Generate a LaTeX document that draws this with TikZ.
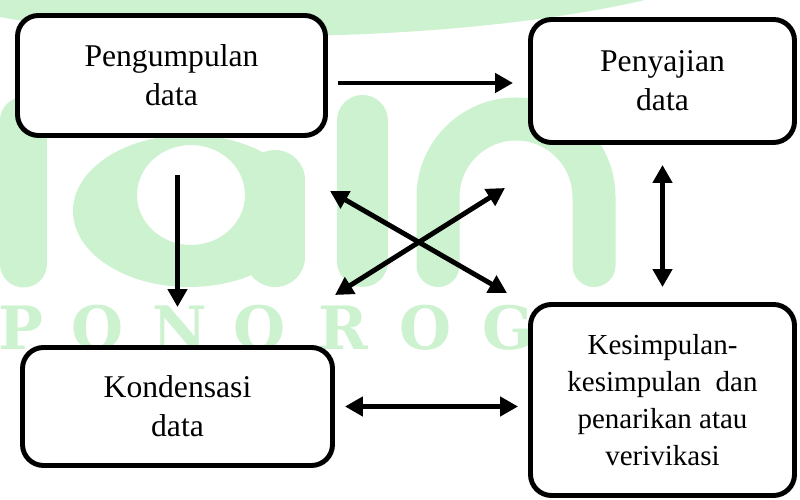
\documentclass[tikz,border=0pt]{standalone}
\usepackage{fontspec}
\setmainfont{Liberation Serif}
\newfontfamily\wmfont{DejaVu Serif}
\usepackage{tikz}
\usetikzlibrary{arrows.meta}

\definecolor{wmgreen}{RGB}{205,242,208}

\tikzset{
  box/.style={draw, line width=2.8pt, rounded corners=0.42cm, fill=white,
    align=center, inner sep=0pt, font=\fontsize{18}{22}\selectfont},
  arr/.style={line width=2.8pt, >={Triangle[length=0.36cm,width=0.38cm]}},
  wmletter/.style={text=wmgreen, anchor=base, inner sep=0pt,
    font=\wmfont\bfseries\fontsize{34}{34}\selectfont}
}

\begin{document}
\begin{tikzpicture}[]

\useasboundingbox (0,0) rectangle (16,10);
\fill[white] (0,0) rectangle (16,10);

% watermark
\fill[wmgreen] (0,10) -- (0,9.66) .. controls (3,9.1) and (9,9.1) .. (12.9,10) -- cycle;
\draw[wmgreen, line width=0.94cm, line cap=round] (0.47,7.59) -- (0.47,4.72);
\fill[wmgreen, even odd rule] (3.78,5.78) ellipse [x radius=2.32, y radius=1.52]
  (3.82,6.1) ellipse [x radius=1.08, y radius=1.0];
\draw[wmgreen, line width=1.2cm, line cap=round] (5.5,6.4) -- (5.5,4.86);
\draw[wmgreen, line width=1.02cm, line cap=round] (7.25,7.59) -- (7.25,4.77);
\draw[wmgreen, line width=0.86cm, line cap=round] (8.76,4.69) -- (8.76,6.06)
  arc[start angle=180, end angle=0, radius=1.56] -- (11.88,4.69);
\foreach \l/\x [count=\i] in {P/0.42, O/1.96, N/3.6, O/5.2, R/6.86, O/8.52, G/10.16}
  \node[wmletter] (wm\i) at (\x,3.0) {\l};

% nodes
\node[box, minimum width=6.16cm, minimum height=2.4cm] (peng) at (3.43,8.49) {Pengumpulan\\data};
\node[box, minimum width=5.28cm, minimum height=2.46cm] (peny) at (13.25,8.38) {Penyajian\\data};
\node[box, minimum width=6.2cm, minimum height=2.36cm] (kond) at (3.55,1.87) {Kondensasi\\data};
\node[box, minimum width=5.28cm, minimum height=3.82cm, font=\fontsize{16.5}{21}\selectfont] (kesi) at (13.25,2.0)
  {Kesimpulan-\\kesimpulan~ dan\\penarikan atau\\verivikasi};

\coordinate (x1) at (6.6,6.18);
\coordinate (x2) at (10.14,4.14);
\coordinate (x3) at (6.7,4.1);
\coordinate (x4) at (10.1,6.24);

% arrows
\draw[arr, ->, shorten <=0.2cm, shorten >=0.3cm] ([yshift=-0.15cm]peng.east) -- ([yshift=-0.15cm]peng.east -| peny.west);
\draw[arr, ->, shorten <=0.74cm, shorten >=0.76cm] (peng.south -| kond.north) -- (kond.north);
\draw[arr, <->, shorten <=0.4cm, shorten >=0.3cm] (peny.south) -- (kesi.north);
\draw[arr, <->, shorten <=0.2cm, shorten >=0.2cm] (kond.east) -- (kond.east -| kesi.west);
\draw[arr, <->] (x1) -- (x2);
\draw[arr, <->] (x3) -- (x4);

\end{tikzpicture}
\end{document}
